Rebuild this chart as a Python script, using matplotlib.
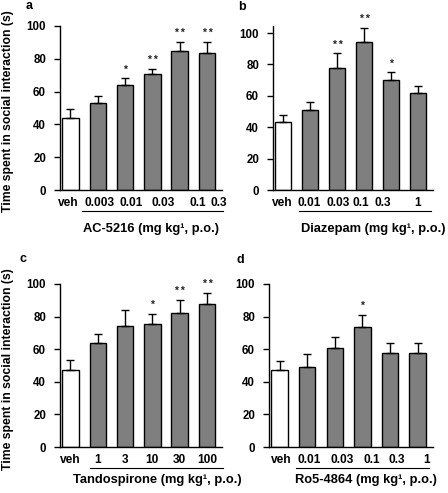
import numpy as np
import matplotlib.pyplot as plt

plt.rcParams['font.family'] = ['Liberation Sans', 'DejaVu Sans']
plt.rcParams['font.weight'] = 'bold'

# panel data: labels, means, upper error (mean + SEM), significance
a_labels = ['veh', '0.003', '0.01', '0.03', '0.1', '0.3']
a_means = [44, 53, 64, 70.5, 84.5, 83.5]
a_tops = [49.5, 57.5, 68, 74, 90, 90]
a_stars = ['', '', '*', '**', '**', '**']

b_labels = ['veh', '0.01', '0.03', '0.1', '0.3', '1']
b_means = [43.5, 51, 78, 94, 70, 62]
b_tops = [48, 56, 87, 103.5, 75, 66]
b_stars = ['', '', '**', '**', '*', '']

c_labels = ['veh', '1', '3', '10', '30', '100']
c_means = [47.5, 64, 74, 75.5, 82, 88]
c_tops = [53.5, 69.5, 84, 81.5, 90, 94.5]
c_stars = ['', '', '', '*', '**', '**']

d_labels = ['veh', '0.01', '0.03', '0.1', '0.3', '1']
d_means = [47, 49, 61, 73.5, 57.5, 57.5]
d_tops = [53, 57, 67.5, 81, 64, 63.5]
d_stars = ['', '', '', '*', '', '']

W, H = 448, 493
fig = plt.figure(figsize=(W / 100, H / 100), dpi=100)


def panel(box, letter, letter_xy, labels, label_pos, means, tops, stars, drug,
          drug_x, line_x, below, ymax, ylabel):
    x0, x1, ybot, ytop = box
    hpx = ybot - ytop
    ax = fig.add_axes([x0 / W, 1 - ybot / H, (x1 - x0) / W, hpx / H])
    x = np.arange(len(means))
    errs = np.array(tops) - np.array(means)
    colors = ['white'] + ['#7f7f7f'] * (len(means) - 1)
    ax.bar(x, means, width=0.6, color=colors, edgecolor='black', linewidth=1.0,
           yerr=[np.zeros(len(means)), errs], capsize=2.6,
           error_kw=dict(elinewidth=1.0, capthick=1.0, ecolor='black'), zorder=2)
    for xi, t, s in zip(x, tops, stars):
        if s:
            ax.text(xi, t + 2.5, ' '.join(s), ha='center', va='bottom',
                    fontsize=7.5, color='#222222')
    ax.set_xlim(-0.38, 5.55)
    ax.set_ylim(0, ymax)
    ax.set_yticks([0, 20, 40, 60, 80, 100])
    ax.tick_params(axis='y', labelsize=8.3, length=4, width=1, pad=6)
    ax.tick_params(axis='x', length=0, labelsize=8.6, pad=5)
    ax.set_xticks(label_pos)
    ax.set_xticklabels(labels, fontweight='bold')
    for lab in ax.get_yticklabels():
        lab.set_fontweight('bold')
    ax.spines['top'].set_visible(False)
    ax.spines['right'].set_visible(False)
    ax.spines['left'].set_linewidth(1)
    ax.spines['bottom'].set_linewidth(1)
    trans = ax.get_xaxis_transform()
    ax.plot(line_x, [-21 / hpx, -21 / hpx], color='black', lw=0.8,
            transform=trans, clip_on=False)
    ax.text(drug_x, -below / hpx, drug + ' (mg kg\u00b9, p.o.)', transform=trans,
            ha='left', va='center', fontsize=9.3, fontweight='bold')
    fig.text(letter_xy[0] / W, 1 - letter_xy[1] / H, letter, fontsize=9,
             fontweight='bold', ha='center', va='center')
    if ylabel:
        ax.set_ylabel('Time spent in social interaction (s)', fontsize=8.8,
                      fontweight='bold')
        ax.yaxis.set_label_coords(-0.285, 0.48)
    return ax


panel((60, 222, 190, 26), 'a', (29, 6), a_labels,
      [-0.07, 1.06, 2.22, 3.38, 4.66, 5.43], a_means, a_tops, a_stars,
      'AC-5216', 0.48, [0.44, 5.6], 39, 100, True)
panel((273, 433, 190, 26), 'b', (242, 6.5), b_labels,
      [-0.04, 0.96, 2.02, 2.87, 3.7, 4.96], b_means, b_tops, b_stars,
      'Diazepam', 0.66, [0.59, 5.48], 39, 104.5, False)
panel((60, 222, 447, 284), 'c', (22.5, 259), c_labels,
      [0, 1, 2, 3, 4, 5], c_means, c_tops, c_stars,
      'Tandospirone', 0.11, [0.7, 5.57], 33, 100, True)
panel((269, 433, 447, 284), 'd', (240, 260), d_labels,
      [0.05, 1.08, 2.27, 3.35, 4.23, 5.3], d_means, d_tops, d_stars,
      'Ro5-4864', 0.56, [0.6, 5.4], 33, 100, False)

fig.savefig('out.png', dpi=100)
